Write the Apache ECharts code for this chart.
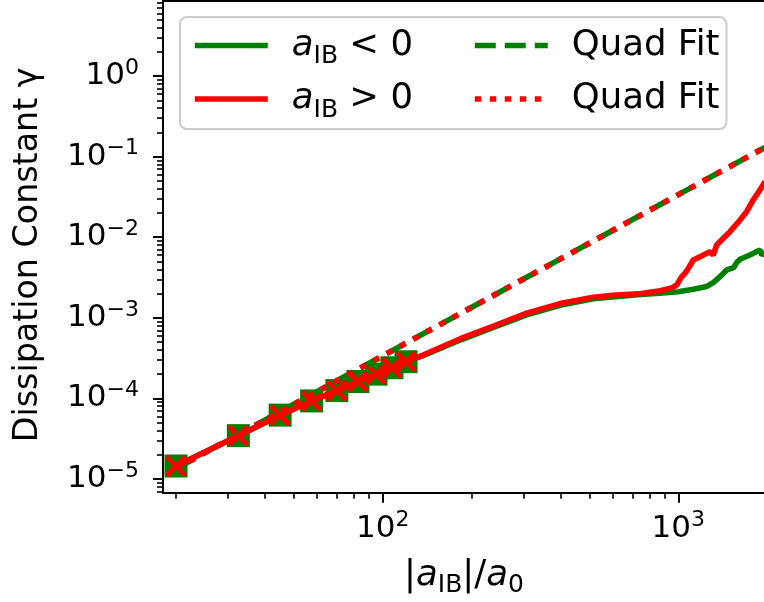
<!DOCTYPE html>
<html><head><meta charset="utf-8">
<script src="https://cdn.jsdelivr.net/npm/echarts@6/dist/echarts.min.js"></script>
<style>html,body{margin:0;padding:0;background:#fff}#c{width:764px;height:602px}</style>
</head><body><div id="c"></div><script>
// ---- data ----
const markerX = [20, 32.5, 45, 57.5, 70, 82.5, 95, 107.5, 120];
const markerNegY = [1.45e-5, 3.45e-5, 6.2e-5, 9.3e-5, 1.25e-4, 1.62e-4, 2.0e-4, 2.4e-4, 2.85e-4];
const markerPosY = [1.45e-5, 3.45e-5, 6.2e-5, 9.3e-5, 1.25e-4, 1.62e-4, 2.0e-4, 2.4e-4, 2.85e-4];

const curveNegX = [20, 32.5, 45, 57.5, 70, 82.5, 95, 107.5, 120, 137, 183, 237, 307, 398, 516, 587, 750, 867, 1000, 1124, 1250, 1313, 1384, 1458, 1540, 1576, 1617, 1748, 1890, 1915, 1965];
const curveNegY = [1.45e-5, 3.45e-5, 6.2e-5, 9.3e-5, 1.25e-4, 1.62e-4, 2.0e-4, 2.4e-4, 2.85e-4, 3.4e-4, 5.3e-4, 7.6e-4, 1.09e-3, 1.43e-3, 1.72e-3, 1.8e-3, 1.95e-3, 2.02e-3, 2.1e-3, 2.26e-3, 2.45e-3, 2.73e-3, 3.24e-3, 3.92e-3, 4.2e-3, 4.83e-3, 5.32e-3, 6.01e-3, 6.94e-3, 6.01e-3, 6.45e-3];

const curvePosX = [20, 32.5, 45, 57.5, 70, 82.5, 95, 107.5, 120, 137, 183, 237, 307, 398, 516, 600, 750, 867, 950, 988, 1027, 1054, 1090, 1124, 1184, 1280, 1313, 1349, 1420, 1496, 1617, 1703, 1793, 1890, 1965];
const curvePosY = [1.45e-5, 3.45e-5, 6.2e-5, 9.3e-5, 1.25e-4, 1.62e-4, 2.0e-4, 2.4e-4, 2.85e-4, 3.45e-4, 5.5e-4, 7.9e-4, 1.14e-3, 1.5e-3, 1.8e-3, 1.9e-3, 2.0e-3, 2.17e-3, 2.35e-3, 2.55e-3, 3.24e-3, 3.56e-3, 4.3e-3, 5.21e-3, 5.73e-3, 6.61e-3, 6.01e-3, 8.0e-3, 9.68e-3, 1.17e-2, 1.63e-2, 2.07e-2, 2.9e-2, 3.86e-2, 4.9e-2];

const fitX = [20, 1965];
const fitY = [1.35e-5, 0.130];

const xMajorTicks = [100, 1000];
const yMajorTicks = [1e-5, 1e-4, 1e-3, 1e-2, 1e-1, 1];
const xMinorTicks = [20, 30, 40, 50, 60, 70, 80, 90, 200, 300, 400, 500, 600, 700, 800, 900];
const yMinorTicks = [7e-6, 8e-6, 9e-6,
  2e-5, 3e-5, 4e-5, 5e-5, 6e-5, 7e-5, 8e-5, 9e-5,
  2e-4, 3e-4, 4e-4, 5e-4, 6e-4, 7e-4, 8e-4, 9e-4,
  2e-3, 3e-3, 4e-3, 5e-3, 6e-3, 7e-3, 8e-3, 9e-3,
  2e-2, 3e-2, 4e-2, 5e-2, 6e-2, 7e-2, 8e-2, 9e-2,
  0.2, 0.3, 0.4, 0.5, 0.6, 0.7, 0.8, 0.9,
  2, 3, 4, 5, 6, 7, 8];

const X_MIN = 18.07, X_MAX = 1965;
const Y_MIN = 6.76e-6, Y_MAX = 8.52;

const legendLabels = {
  neg: '{sp| }{i|a}{sub|IB}{t| < 0}{e| }',
  pos: '{sp| }{i|a}{sub|IB}{t| > 0}{e| }',
  fitNeg: '{sp| }{t|Quad Fit}',
  fitPos: '{sp| }{t|Quad Fit}'
};

// ---- styles ----
const FF = 'DejaVu Sans';
const GREEN = '#008000', RED = '#ff0000';
const LW = 5.6;
const DASH = [21, 9], DOT = [6.5, 8.5];
const tickRich = {
  b: {fontFamily: FF, fontSize: 31, lineHeight: 38, color: '#000'},
  s: {fontFamily: FF, fontSize: 22, lineHeight: 22, verticalAlign: 'top', color: '#000'}
};
const nameRich = {
  v: {fontFamily: FF, fontSize: 35.5, lineHeight: 43, color: '#000'},
  i: {fontFamily: FF, fontStyle: 'italic', fontSize: 35.5, lineHeight: 43, color: '#000'},
  sub: {fontFamily: FF, fontSize: 25, lineHeight: 25, verticalAlign: 'bottom', color: '#000'}
};
const legendRich = {
  t: {fontFamily: FF, fontSize: 35.5, lineHeight: 47, color: '#000'},
  i: {fontFamily: FF, fontStyle: 'italic', fontSize: 35.5, lineHeight: 47, color: '#000'},
  sub: {fontFamily: FF, fontSize: 25, lineHeight: 25, verticalAlign: 'bottom', color: '#000'},
  sp: {fontFamily: FF, fontSize: 35.5, lineHeight: 47, width: 19},
  e: {fontFamily: FF, fontSize: 35.5, lineHeight: 47, width: 47}
};
function pow10Label(v) {
  const e = Math.round(Math.log10(v));
  return '{b|10}{s|' + (e < 0 ? '\u2212' + (-e) : String(e)) + '}';
}
const xMark = 'path://M9.19,-9.19L109.19,90.81L90.81,109.19L-9.19,9.19ZM90.81,-9.19L109.19,9.19L9.19,109.19L-9.19,90.81Z';
const zip = (xs, ys) => xs.map((x, i) => [x, ys[i]]);

const axisBase = () => ({type: 'log', logBase: 10, splitLine: {show: false}, minorTick: {show: false}, nameMoveOverlap: false});
const hidden = {opacity: 0, color: 'rgba(0,0,0,0)', borderWidth: 0};

const chart = echarts.init(document.getElementById('c'), null, {renderer: 'canvas'});
chart.setOption({
  animation: false,
  backgroundColor: '#fff',
  grid: {left: 163, top: 1, right: -1, bottom: 109.3, containLabel: false, outerBoundsMode: 'none'},
  legend: {
    left: 180, top: 17, width: 560,
    orient: 'horizontal',
    padding: [10.5, 7, 6.5, 12],
    itemGap: 12, itemWidth: 73, itemHeight: 14,
    selectedMode: false,
    backgroundColor: 'rgba(255,255,255,0.8)',
    borderColor: '#cccccc', borderWidth: 2, borderRadius: 7,
    itemStyle: hidden,
    data: [
      {name: 'neg', lineStyle: {color: GREEN, width: LW, type: 'solid'}, itemStyle: hidden},
      {name: 'fitNeg', lineStyle: {color: GREEN, width: LW, type: DASH, cap: 'butt'}, itemStyle: hidden},
      {name: 'pos', lineStyle: {color: RED, width: LW, type: 'solid'}, itemStyle: hidden},
      {name: 'fitPos', lineStyle: {color: RED, width: LW, type: DOT, cap: 'butt'}, itemStyle: hidden}
    ],
    formatter: (n) => legendLabels[n],
    textStyle: {fontFamily: FF, fontSize: 35.5, color: '#000', rich: legendRich}
  },
  xAxis: [
    Object.assign(axisBase(), {
      gridIndex: 0, position: 'bottom', min: X_MIN, max: X_MAX,
      axisLine: {show: true, onZero: false, lineStyle: {color: '#000', width: 2}},
      axisTick: {show: true, length: 10, lineStyle: {color: '#000', width: 2}, customValues: xMajorTicks},
      axisLabel: {show: true, customValues: xMajorTicks, margin: 17, formatter: pow10Label, rich: tickRich},
      name: '{v||}{i|a}{sub|IB}{v||/}{i|a}{sub|0}',
      nameLocation: 'middle', nameGap: 62,
      nameTextStyle: {rich: nameRich}
    }),
    Object.assign(axisBase(), {
      gridIndex: 0, position: 'bottom', min: X_MIN, max: X_MAX,
      axisLine: {show: false, onZero: false},
      axisTick: {show: true, length: 6, lineStyle: {color: '#000', width: 1.6}, customValues: xMinorTicks},
      axisLabel: {show: false}
    }),
    Object.assign(axisBase(), {
      gridIndex: 0, position: 'top', min: X_MIN, max: X_MAX,
      axisLine: {show: true, onZero: false, lineStyle: {color: '#000', width: 2}},
      axisTick: {show: false}, axisLabel: {show: false}
    })
  ],
  yAxis: [
    Object.assign(axisBase(), {
      gridIndex: 0, position: 'left', min: Y_MIN, max: Y_MAX,
      axisLine: {show: true, onZero: false, lineStyle: {color: '#000', width: 2}},
      axisTick: {show: true, length: 10, lineStyle: {color: '#000', width: 2}, customValues: yMajorTicks},
      axisLabel: {show: true, customValues: yMajorTicks, margin: 24, formatter: pow10Label, rich: tickRich},
      name: 'Dissipation Constant \u03b3',
      nameLocation: 'middle', nameGap: 115,
      nameTextStyle: {fontFamily: FF, fontSize: 33.3, lineHeight: 40, color: '#000', padding: [0, 16, 0, 0]}
    }),
    Object.assign(axisBase(), {
      gridIndex: 0, position: 'left', min: Y_MIN, max: Y_MAX,
      axisLine: {show: false, onZero: false},
      axisTick: {show: true, length: 6, lineStyle: {color: '#000', width: 1.6}, customValues: yMinorTicks},
      axisLabel: {show: false}
    })
  ],
  series: [
    {name: 'neg', type: 'line', data: zip(curveNegX, curveNegY), symbol: 'none', silent: true,
     lineStyle: {color: GREEN, width: LW}, itemStyle: {color: GREEN}},
    {name: 'negMarkers', type: 'scatter', data: zip(markerX, markerNegY), symbol: 'rect', symbolSize: 23, silent: true,
     itemStyle: {color: GREEN, opacity: 1}},
    {name: 'fitNeg', type: 'line', data: zip(fitX, fitY), symbol: 'none', silent: true,
     lineStyle: {color: GREEN, width: LW, type: DASH, cap: 'butt'}, itemStyle: {color: GREEN}},
    {name: 'pos', type: 'line', data: zip(curvePosX, curvePosY), symbol: 'none', silent: true,
     lineStyle: {color: RED, width: LW}, itemStyle: {color: RED}},
    {name: 'posMarkers', type: 'scatter', data: zip(markerX, markerPosY), symbol: xMark, symbolSize: 22, silent: true,
     itemStyle: {color: RED, opacity: 1}},
    {name: 'fitPos', type: 'line', data: zip(fitX, fitY), symbol: 'none', silent: true,
     lineStyle: {color: RED, width: LW, type: DOT, cap: 'butt'}, itemStyle: {color: RED}}
  ]
});
</script></body></html>
